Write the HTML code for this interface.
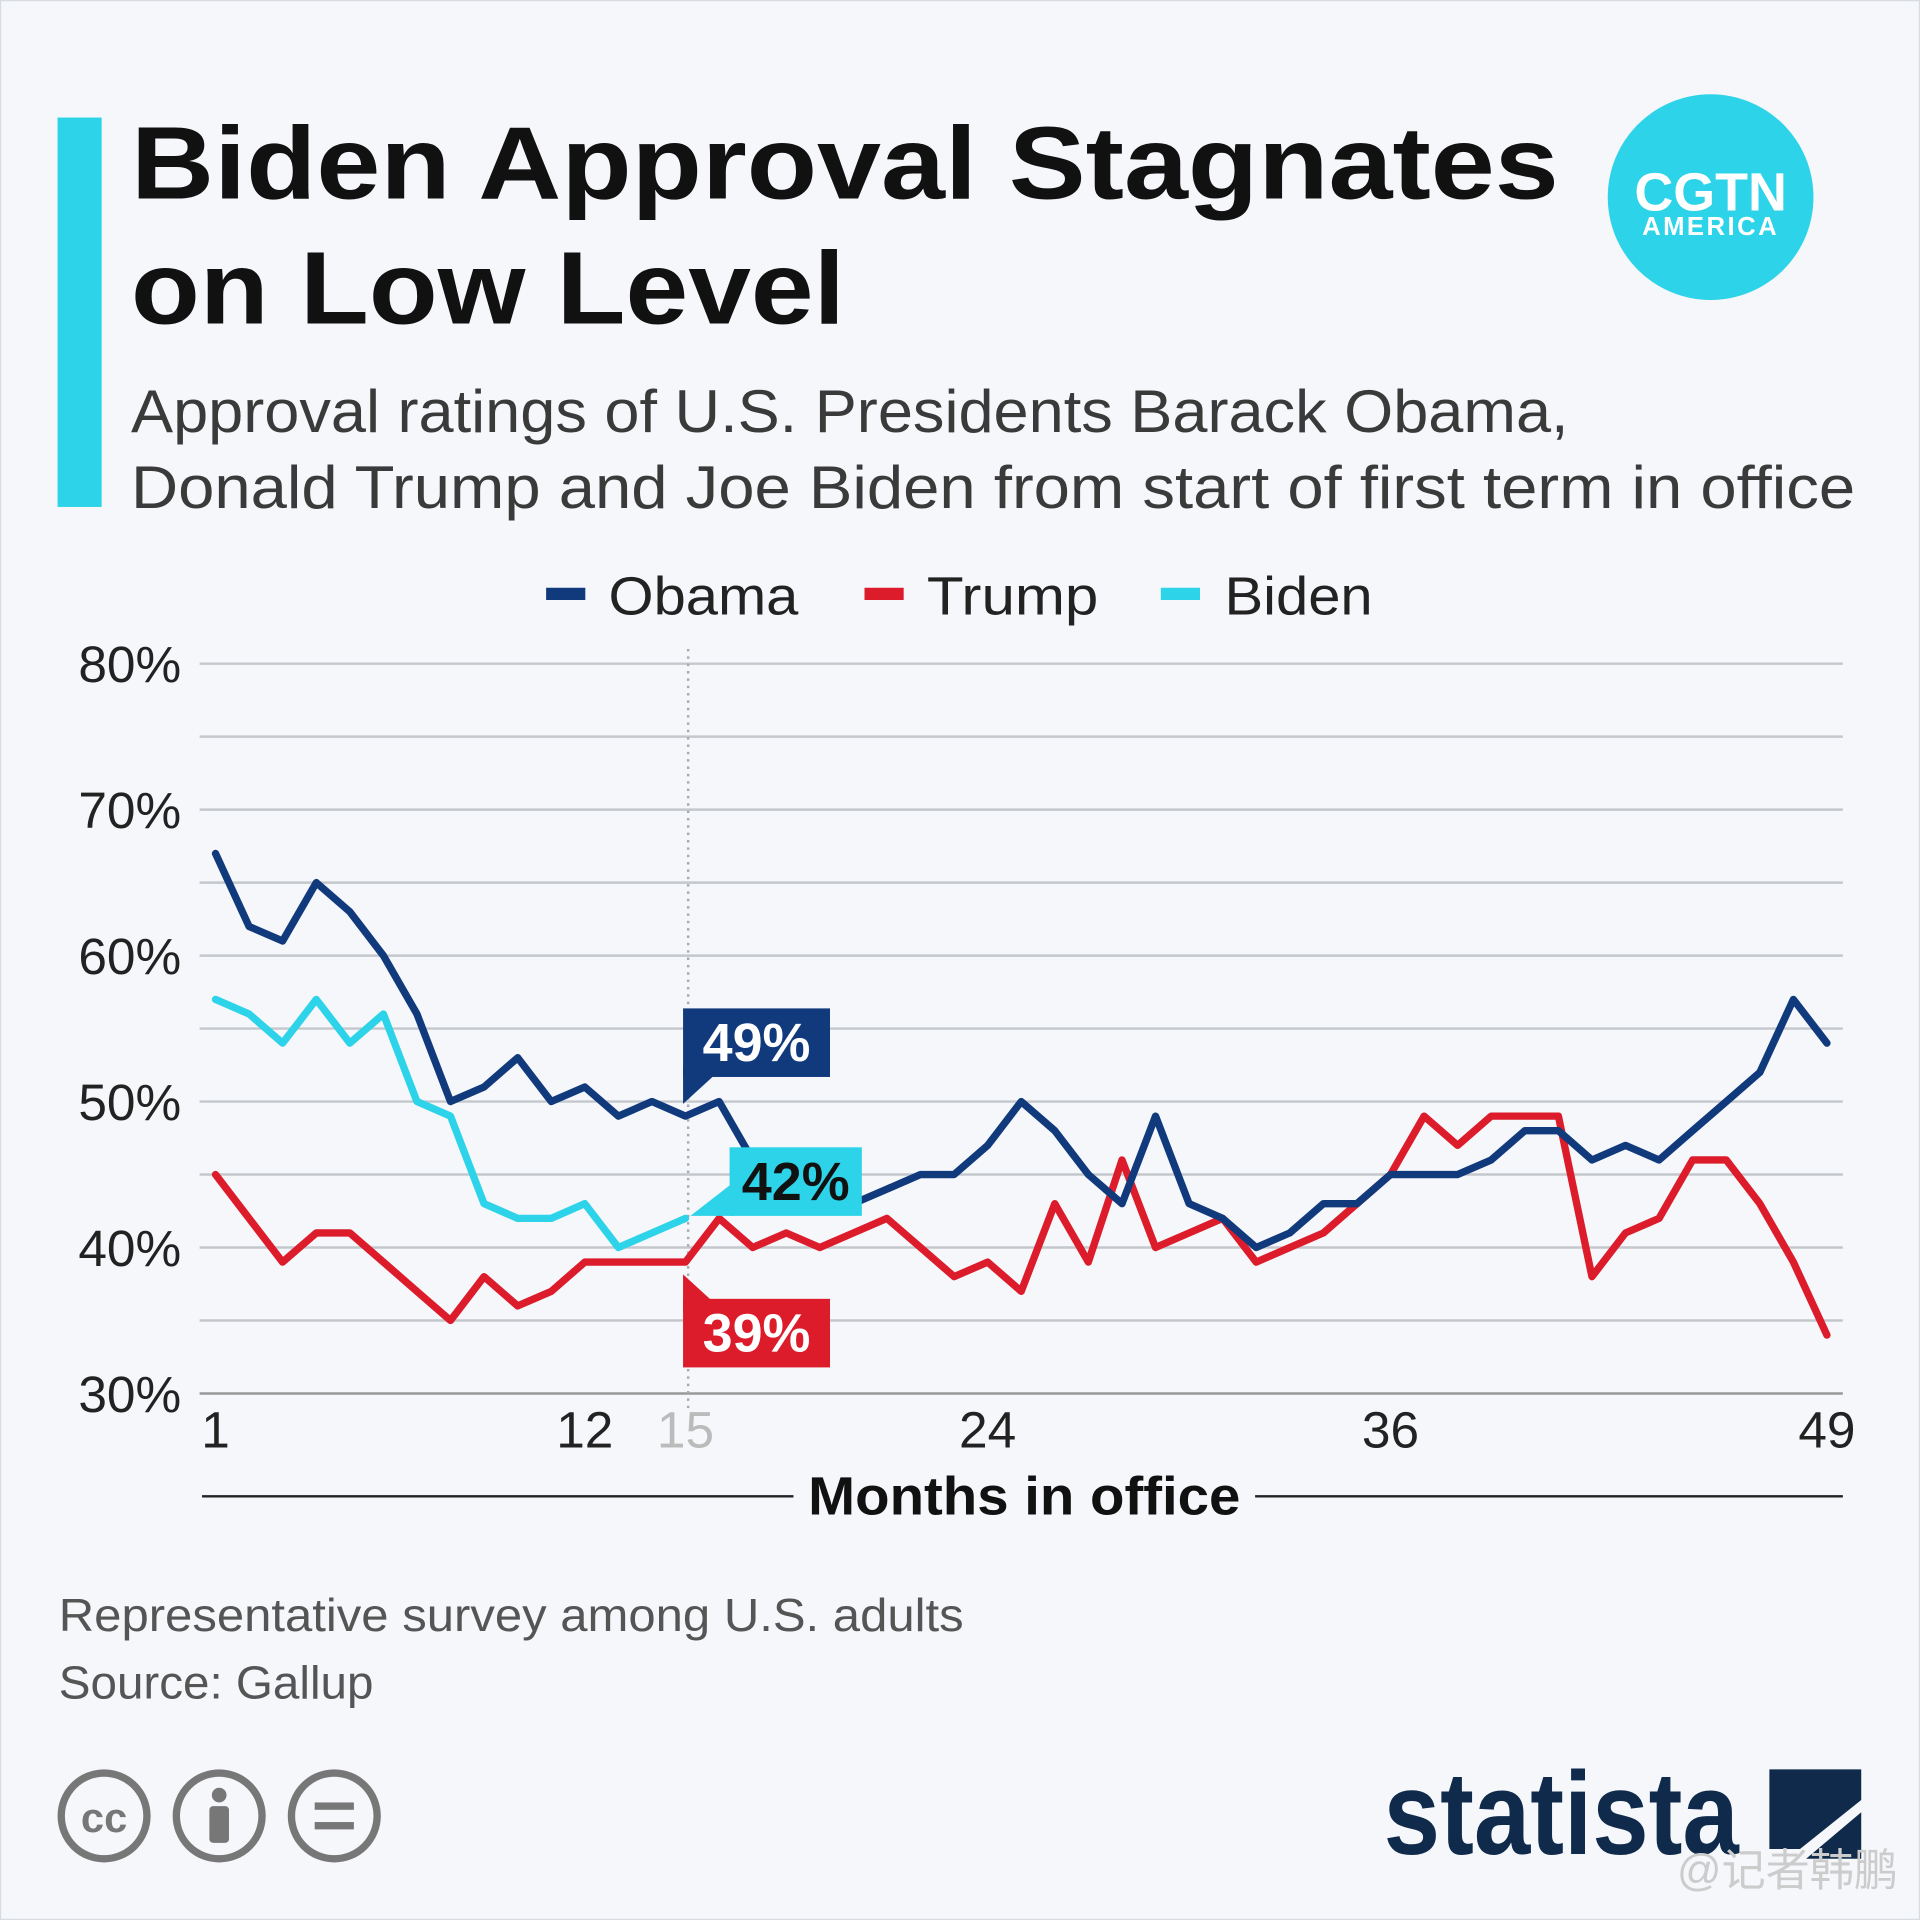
<!DOCTYPE html>
<html><head><meta charset="utf-8"><style>
html,body{margin:0;padding:0;background:#f5f7fb;}
svg{display:block;font-family:"Liberation Sans",sans-serif;}
</style></head><body>
<svg id="chart" width="1920" height="1920" viewBox="0 0 1568 1568" xmlns="http://www.w3.org/2000/svg">
<rect x="0" y="0" width="1568" height="1568" fill="#f5f7fb" stroke="#d8dbe0" stroke-width="2"/>
<rect x="47" y="96" width="36" height="318" fill="#2dd3e8"/>
<text x="107" y="162" font-size="84" font-weight="bold" fill="#111" textLength="1166" lengthAdjust="spacingAndGlyphs">Biden Approval Stagnates</text>
<text x="107" y="264" font-size="84" font-weight="bold" fill="#111" textLength="583" lengthAdjust="spacingAndGlyphs">on Low Level</text>
<text x="107" y="353" font-size="49" fill="#3a3a3a" textLength="1174" lengthAdjust="spacingAndGlyphs">Approval ratings of U.S. Presidents Barack Obama,</text>
<text x="107" y="415" font-size="49" fill="#3a3a3a" textLength="1408" lengthAdjust="spacingAndGlyphs">Donald Trump and Joe Biden from start of first term in office</text>
<g>
<circle cx="1397" cy="161" r="84" fill="#2dd3e8"/>
<text x="1397" y="172" font-size="44" font-weight="bold" fill="#fff" text-anchor="middle">CGTN</text>
<text x="1397" y="192" font-size="21" font-weight="bold" fill="#fff" text-anchor="middle" letter-spacing="2">AMERICA</text>
</g>
<g>
<rect x="446" y="480" width="32" height="10" fill="#113a7d"/>
<text x="497" y="502" font-size="44" fill="#222" textLength="155" lengthAdjust="spacingAndGlyphs">Obama</text>
<rect x="706" y="480" width="32" height="10" fill="#dc1c2b"/>
<text x="757" y="502" font-size="44" fill="#222" textLength="140" lengthAdjust="spacingAndGlyphs">Trump</text>
<rect x="948" y="480" width="32" height="10" fill="#2dd3e8"/>
<text x="1000" y="502" font-size="44" fill="#222" textLength="121" lengthAdjust="spacingAndGlyphs">Biden</text>
</g>
<g id="grid"></g>
<g id="yticks"></g>
<g id="xticks"></g>
<line x1="562" y1="530" x2="562" y2="1150" stroke="#aaa" stroke-width="2" stroke-dasharray="2,4"/>
<g id="series"></g>
<g id="labels"></g>
<line x1="165" y1="1222" x2="648" y2="1222" stroke="#222" stroke-width="2"/>
<line x1="1025" y1="1222" x2="1505" y2="1222" stroke="#222" stroke-width="2"/>
<text x="660" y="1237" font-size="44" font-weight="bold" fill="#111" textLength="353" lengthAdjust="spacingAndGlyphs">Months in office</text>
<text x="48" y="1332" font-size="38" fill="#555" textLength="739" lengthAdjust="spacingAndGlyphs">Representative survey among U.S. adults</text>
<text x="48" y="1387" font-size="38" fill="#555" textLength="257" lengthAdjust="spacingAndGlyphs">Source: Gallup</text>
<g>
<circle cx="85" cy="1483" r="35" fill="none" stroke="#777" stroke-width="6"/>
<text x="85" y="1496" font-size="34" font-weight="bold" fill="#777" text-anchor="middle">cc</text>
<circle cx="179" cy="1483" r="35" fill="none" stroke="#777" stroke-width="6"/>
<circle cx="179" cy="1466" r="6" fill="#777"/>
<rect x="171" y="1475" width="16" height="30" rx="3" fill="#777"/>
<circle cx="273" cy="1483" r="35" fill="none" stroke="#777" stroke-width="6"/>
<rect x="257" y="1472" width="32" height="6" fill="#777"/>
<rect x="257" y="1488" width="32" height="6" fill="#777"/>
</g>
<g>
<text x="1130" y="1514" font-size="96" font-weight="bold" fill="#0f2a4a" textLength="290" lengthAdjust="spacingAndGlyphs">statista</text>
<path d="M1445 1445 H1520 V1470 L1470 1510 H1445 Z" fill="#0f2a4a"/>
<path d="M1520 1480 V1518 H1475 Z" fill="#0f2a4a"/>
</g>
<text x="1550" y="1540" font-size="36" fill="#ccc" text-anchor="end" font-family="'Liberation Sans','Noto Sans CJK SC',sans-serif">@记者韩鹏</text>
</svg>
<script>
const months=[];for(let i=1;i<=49;i++)months.push(i);
const obama=[67,62,61,65,63,60,56,50,51,53,50,51,49,50,49,50,46,44,43,43,44,45,45,47,50,48,45,43,49,43,42,40,41,43,43,45,45,45,46,48,48,46,47,46,48,50,52,57,54];
const trump=[45,42,39,41,41,39,37,35,38,36,37,39,39,39,39,42,40,41,40,41,42,40,38,39,37,43,39,46,40,41,42,39,40,41,43,45,49,47,49,49,49,38,41,42,46,46,43,39,34];
const biden=[57,56,54,57,54,56,50,49,43,42,42,43,40,41,42];
const yTicks=[30,40,50,60,70,80];
const gridVals=[30,35,40,45,50,55,60,65,70,75,80];
const xTicks=[1,12,15,24,36,49];
const NS="http://www.w3.org/2000/svg";
function xs(m){return 176+(m-1)*(1316/48);}
function ys(v){return 1138-(v-30)*(596/50);}
function mk(tag,attrs,parent){const e=document.createElementNS(NS,tag);for(const k in attrs)e.setAttribute(k,attrs[k]);parent.appendChild(e);return e;}
const grid=document.getElementById('grid');
gridVals.forEach(v=>{const l=mk('line',{x1:163,x2:1505,y1:ys(v),y2:ys(v),stroke:v===30?'#999':'#c4c7cc','stroke-width':2},grid);

});
const yt=document.getElementById('yticks');
yTicks.forEach(v=>{const t=mk('text',{x:148,y:ys(v)+15,'font-size':42,fill:'#222','text-anchor':'end'},yt);t.textContent=v+'%';

});
const xt=document.getElementById('xticks');
xTicks.forEach(m=>{const t=mk('text',{x:xs(m),y:1182,'font-size':42,fill:m===15?'#bbb':'#222','text-anchor':'middle'},xt);t.textContent=m;

});
const sg=document.getElementById('series');
function line(data,color,name){const d=data.map((v,i)=>(i?'L':'M')+xs(i+1).toFixed(1)+' '+ys(v).toFixed(1)).join(' ');
const p=mk('path',{d:d,fill:'none',stroke:color,'stroke-width':6,'stroke-linejoin':'round','stroke-linecap':'round'},sg);

}
line(trump,'#dc1c2b','trump-line');
line(obama,'#113a7d','obama-line');
line(biden,'#2dd3e8','biden-line');
const lg=document.getElementById('labels');
function callout(val,color,txtColor,bx,by,w,h,ptr,name){
const g=mk('g',{},lg);


mk('path',{d:ptr,fill:color},g);
mk('rect',{x:bx,y:by,width:w,height:h,fill:color},g);
const t=mk('text',{x:bx+w/2,y:by+h/2+15,'font-size':44,'font-weight':'bold',fill:txtColor,'text-anchor':'middle'},g);t.textContent=val+'%';}
const bo=ys(obama[14]),bb=ys(biden[14]),bt=ys(trump[14]),x15=xs(15);
callout(obama[14],'#113a7d','#fff',x15-2,bo-88,120,56,`M${x15-2} ${bo-40} L${x15+22} ${bo-32} L${x15-2} ${bo-10} Z`,'obama-value-label');
callout(biden[14],'#2dd3e8','#111',x15+36,bb-58,108,56,`M${x15+40} ${bb-30} L${x15+40} ${bb-2} L${x15+4} ${bb-2} Z`,'biden-value-label');
callout(trump[14],'#dc1c2b','#fff',x15-2,bt+30,120,56,`M${x15-2} ${bt+10} L${x15+22} ${bt+32} L${x15-2} ${bt+40} Z`,'trump-value-label');
</script>
</body></html>
